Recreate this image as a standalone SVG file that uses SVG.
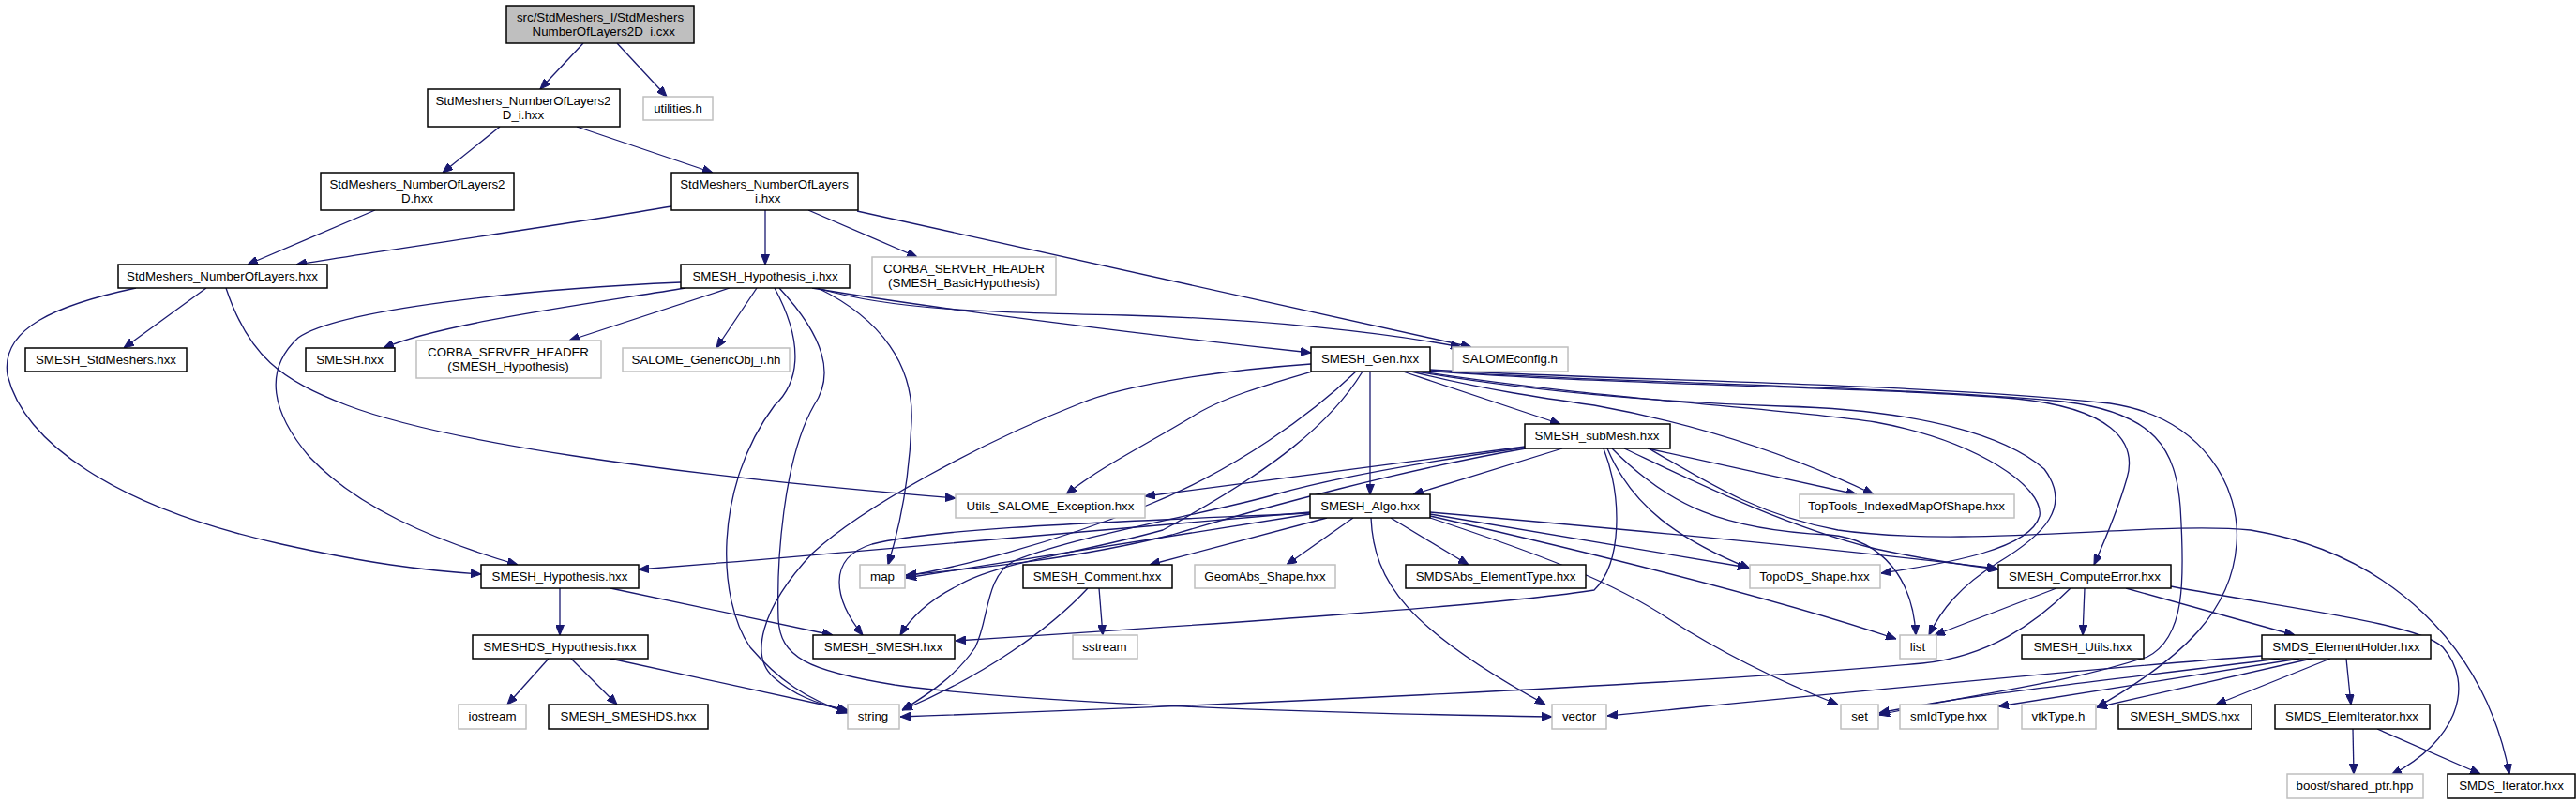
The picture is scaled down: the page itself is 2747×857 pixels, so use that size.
<svg xmlns="http://www.w3.org/2000/svg" width="2747" height="857" viewBox="0 0 2747 857">
<style>
.n rect{fill:#fff;stroke:#000;stroke-width:1.5}
.g rect{fill:#fff;stroke:#bfbfbf;stroke-width:1.5}
.m rect{fill:#bfbfbf;stroke:#000;stroke-width:1.5}
text{font-family:"Liberation Sans",Arial,sans-serif;font-size:13.3px;fill:#000;text-anchor:middle}
#edges path{fill:none;stroke:#191970;stroke-width:1.3;marker-end:url(#a)}
</style>
<defs>
<marker id="a" viewBox="0 0 10 8" refX="10" refY="4" markerWidth="11" markerHeight="9" markerUnits="userSpaceOnUse" orient="auto"><path d="M0,0 L10,4 L0,8 z" fill="#191970" stroke="#191970"/></marker>
</defs>
<rect width="2747" height="857" fill="#fff"/>
<g id="edges">
<path d="M622,46 L576,95"/>
<path d="M658,46 L711,103"/>
<path d="M533,135 L472,184"/>
<path d="M615,135 L760,184"/>
<path d="M400,224 L264,282"/>
<path d="M716,220 C600,240 420,265 316,282"/>
<path d="M816,224 L816,282"/>
<path d="M862,224 L978,274"/>
<path d="M914,225 L1569,370"/>
<path d="M220,307 L132,371"/>
<path d="M145,307 C60,325 0,350 8,400 C25,470 120,540 300,580 C390,600 450,608 513,612"/>
<path d="M241,307 C265,380 300,405 370,432 C470,470 700,505 1019,531"/>
<path d="M731,307 C620,325 470,345 409,371"/>
<path d="M778,307 L607,363"/>
<path d="M807,307 L764,371"/>
<path d="M726,301 C560,308 360,330 318,360 C280,395 290,440 330,487 C380,540 460,575 552,602"/>
<path d="M866,307 C1000,330 1250,360 1398,376"/>
<path d="M875,308 C950,330 1050,333 1200,336 C1350,340 1480,355 1558,370"/>
<path d="M826,307 C860,370 850,410 826,432 C760,520 765,640 800,690 C830,725 860,745 904,760"/>
<path d="M872,307 C940,340 975,390 972,450 C970,510 960,560 947,602"/>
<path d="M831,307 C880,360 890,400 868,432 C835,490 828,600 830,660 C832,700 860,715 954,730 C1100,750 1400,760 1655,764"/>
<path d="M1496,396 L1664,452"/>
<path d="M1461,396 L1461,527"/>
<path d="M1406,394 C1350,410 1300,425 1270,445 C1220,475 1170,500 1137,527"/>
<path d="M1446,396 C1400,440 1320,500 1220,540 C1120,580 1020,605 966,614"/>
<path d="M1453,396 C1420,450 1360,500 1240,565 C1150,590 1060,600 1020,625 C990,640 970,660 960,677"/>
<path d="M1398,388 C1300,395 1200,410 1152,430 C1050,470 920,540 866,590 C810,650 800,700 825,722 C845,740 870,750 904,758"/>
<path d="M1505,396 C1580,415 1650,425 1700,432 C1800,450 1900,480 1998,527"/>
<path d="M1510,396 C1650,420 1800,430 1900,433 C2050,437 2140,465 2180,500 C2210,540 2180,570 2130,600 C2090,625 2070,650 2057,677"/>
<path d="M1515,396 C1700,425 1900,435 2000,450 C2110,470 2180,520 2175,550 C2165,585 2080,600 2006,611"/>
<path d="M1520,395 C1700,410 2000,412 2150,425 C2250,435 2280,470 2268,510 C2258,545 2245,575 2233,602"/>
<path d="M1522,395 C1700,408 2000,410 2200,428 C2300,440 2320,480 2325,540 C2330,620 2330,680 2290,700 C2200,730 2100,740 2004,762"/>
<path d="M1524,394 C1700,405 2050,408 2250,430 C2350,445 2390,520 2385,580 C2380,650 2330,700 2236,754"/>
<path d="M1397,546 C1100,570 900,590 681,607"/>
<path d="M1397,548 L966,616"/>
<path d="M1397,547 C1200,556 1000,562 930,580 C880,595 890,640 920,677"/>
<path d="M1415,552 L1226,602"/>
<path d="M1443,552 L1372,602"/>
<path d="M1483,552 L1566,602"/>
<path d="M1462,552 C1465,620 1500,670 1648,751"/>
<path d="M1525,552 C1640,590 1720,620 1780,660 C1850,705 1920,735 1960,751"/>
<path d="M1525,550 C1700,590 1900,640 2022,681"/>
<path d="M1525,548 L1864,605"/>
<path d="M1525,546 C1800,570 2000,590 2130,606"/>
<path d="M1666,478 L1507,527"/>
<path d="M1626,476 L1221,529"/>
<path d="M1627,478 C1500,500 1350,540 1250,570 C1150,595 1050,605 966,613"/>
<path d="M1710,478 C1730,530 1730,600 1700,629 C1600,645 1300,665 1019,683"/>
<path d="M1757,478 L1980,527"/>
<path d="M1714,478 C1740,540 1790,575 1866,606"/>
<path d="M1719,478 C1780,540 1840,565 1950,570 C2010,575 2040,620 2043,677"/>
<path d="M1732,478 C1800,510 1900,560 2000,585 C2060,598 2100,603 2131,607"/>
<path d="M1758,478 C1830,520 1880,550 1960,565 C2100,585 2300,555 2400,565 C2550,590 2650,690 2676,825"/>
<path d="M1626,477 C1500,495 1420,510 1360,527 C1300,545 1150,570 1081,598 C1050,615 1055,660 1040,690 C1020,720 990,740 962,757"/>
<path d="M1172,627 L1176,677"/>
<path d="M1160,627 C1120,670 1050,720 962,757"/>
<path d="M597,627 L597,677"/>
<path d="M651,627 L888,677"/>
<path d="M585,702 L541,751"/>
<path d="M609,702 L658,751"/>
<path d="M651,702 L904,757"/>
<path d="M2193,627 L2063,677"/>
<path d="M2223,627 L2221,677"/>
<path d="M2208,627 C2170,665 2120,700 2050,707 C1800,730 1300,752 960,764"/>
<path d="M2267,627 L2447,677"/>
<path d="M2315,625 C2450,650 2580,665 2605,690 C2640,730 2620,790 2550,826"/>
<path d="M2412,699 C2200,715 1900,745 1714,763"/>
<path d="M2431,702 C2250,725 2100,740 2004,760"/>
<path d="M2452,702 L2131,753"/>
<path d="M2465,702 L2236,754"/>
<path d="M2485,702 L2363,751"/>
<path d="M2502,702 L2507,751"/>
<path d="M2509,777 L2510,825"/>
<path d="M2535,777 L2645,825"/>
</g>
<g id="main" class="m"><rect x="540" y="6" width="200" height="40"/><text x="640" y="23">src/StdMeshers_I/StdMeshers</text><text x="640" y="38">_NumberOfLayers2D_i.cxx</text></g>
<g id="snol2d_i" class="n"><rect x="456" y="95" width="205" height="40"/><text x="558" y="112">StdMeshers_NumberOfLayers2</text><text x="558" y="127">D_i.hxx</text></g>
<g id="utilities" class="g"><rect x="686" y="103" width="74" height="25"/><text x="723" y="120">utilities.h</text></g>
<g id="snol2d" class="n"><rect x="342" y="184" width="206" height="40"/><text x="445" y="201">StdMeshers_NumberOfLayers2</text><text x="445" y="216">D.hxx</text></g>
<g id="snol_i" class="n"><rect x="716" y="184" width="199" height="40"/><text x="815" y="201">StdMeshers_NumberOfLayers</text><text x="815" y="216">_i.hxx</text></g>
<g id="snol" class="n"><rect x="126" y="282" width="223" height="25"/><text x="237" y="299">StdMeshers_NumberOfLayers.hxx</text></g>
<g id="hyp_i" class="n"><rect x="726" y="282" width="180" height="25"/><text x="816" y="299">SMESH_Hypothesis_i.hxx</text></g>
<g id="corba_basic" class="g"><rect x="930" y="274" width="196" height="40"/><text x="1028" y="291">CORBA_SERVER_HEADER</text><text x="1028" y="306">(SMESH_BasicHypothesis)</text></g>
<g id="stdmeshers" class="n"><rect x="27" y="371" width="172" height="25"/><text x="113" y="388">SMESH_StdMeshers.hxx</text></g>
<g id="smesh" class="n"><rect x="326" y="371" width="95" height="25"/><text x="373" y="388">SMESH.hxx</text></g>
<g id="corba_hyp" class="g"><rect x="444" y="363" width="197" height="40"/><text x="542" y="380">CORBA_SERVER_HEADER</text><text x="542" y="395">(SMESH_Hypothesis)</text></g>
<g id="genericobj" class="g"><rect x="664" y="371" width="178" height="25"/><text x="753" y="388">SALOME_GenericObj_i.hh</text></g>
<g id="gen" class="n"><rect x="1398" y="370" width="127" height="26"/><text x="1461" y="387">SMESH_Gen.hxx</text></g>
<g id="salomeconfig" class="g"><rect x="1549" y="370" width="123" height="26"/><text x="1610" y="387">SALOMEconfig.h</text></g>
<g id="submesh" class="n"><rect x="1626" y="452" width="155" height="26"/><text x="1703" y="469">SMESH_subMesh.hxx</text></g>
<g id="utils_exc" class="g"><rect x="1019" y="527" width="202" height="25"/><text x="1120" y="544">Utils_SALOME_Exception.hxx</text></g>
<g id="algo" class="n"><rect x="1397" y="527" width="128" height="25"/><text x="1461" y="544">SMESH_Algo.hxx</text></g>
<g id="toptools" class="g"><rect x="1919" y="527" width="229" height="25"/><text x="2033" y="544">TopTools_IndexedMapOfShape.hxx</text></g>
<g id="hypothesis" class="n"><rect x="513" y="602" width="168" height="25"/><text x="597" y="619">SMESH_Hypothesis.hxx</text></g>
<g id="map" class="g"><rect x="917" y="602" width="48" height="25"/><text x="941" y="619">map</text></g>
<g id="comment" class="n"><rect x="1091" y="602" width="159" height="25"/><text x="1170" y="619">SMESH_Comment.hxx</text></g>
<g id="geomabs" class="g"><rect x="1274" y="602" width="150" height="25"/><text x="1349" y="619">GeomAbs_Shape.hxx</text></g>
<g id="smdsabs" class="n"><rect x="1499" y="602" width="192" height="25"/><text x="1595" y="619">SMDSAbs_ElementType.hxx</text></g>
<g id="topods" class="g"><rect x="1866" y="602" width="139" height="25"/><text x="1935" y="619">TopoDS_Shape.hxx</text></g>
<g id="computeerror" class="n"><rect x="2131" y="602" width="184" height="25"/><text x="2223" y="619">SMESH_ComputeError.hxx</text></g>
<g id="smeshds_hyp" class="n"><rect x="504" y="677" width="187" height="25"/><text x="597" y="694">SMESHDS_Hypothesis.hxx</text></g>
<g id="smesh_smesh" class="n"><rect x="867" y="677" width="151" height="25"/><text x="942" y="694">SMESH_SMESH.hxx</text></g>
<g id="sstream" class="g"><rect x="1144" y="677" width="69" height="25"/><text x="1178" y="694">sstream</text></g>
<g id="list" class="g"><rect x="2026" y="677" width="39" height="25"/><text x="2045" y="694">list</text></g>
<g id="utils" class="n"><rect x="2156" y="677" width="130" height="25"/><text x="2221" y="694">SMESH_Utils.hxx</text></g>
<g id="elementholder" class="n"><rect x="2412" y="677" width="180" height="25"/><text x="2502" y="694">SMDS_ElementHolder.hxx</text></g>
<g id="iostream" class="g"><rect x="489" y="751" width="72" height="26"/><text x="525" y="768">iostream</text></g>
<g id="smeshds" class="n"><rect x="585" y="751" width="170" height="26"/><text x="670" y="768">SMESH_SMESHDS.hxx</text></g>
<g id="string" class="g"><rect x="904" y="751" width="55" height="26"/><text x="931" y="768">string</text></g>
<g id="vector" class="g"><rect x="1655" y="751" width="58" height="26"/><text x="1684" y="768">vector</text></g>
<g id="set" class="g"><rect x="1963" y="751" width="40" height="26"/><text x="1983" y="768">set</text></g>
<g id="smidtype" class="g"><rect x="2026" y="751" width="105" height="26"/><text x="2078" y="768">smIdType.hxx</text></g>
<g id="vtktype" class="g"><rect x="2156" y="751" width="79" height="26"/><text x="2195" y="768">vtkType.h</text></g>
<g id="smesh_smds" class="n"><rect x="2259" y="751" width="142" height="26"/><text x="2330" y="768">SMESH_SMDS.hxx</text></g>
<g id="elemiterator" class="n"><rect x="2426" y="751" width="165" height="26"/><text x="2508" y="768">SMDS_ElemIterator.hxx</text></g>
<g id="boost" class="g"><rect x="2439" y="825" width="145" height="26"/><text x="2511" y="842">boost/shared_ptr.hpp</text></g>
<g id="iterator" class="n"><rect x="2610" y="825" width="136" height="26"/><text x="2678" y="842">SMDS_Iterator.hxx</text></g>
</svg>
